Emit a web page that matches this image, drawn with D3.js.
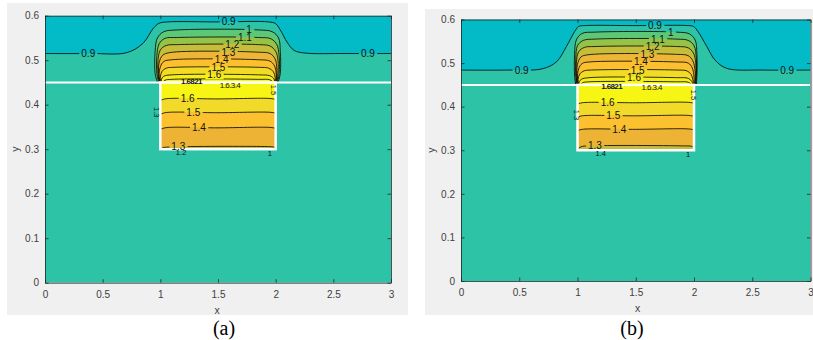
<!DOCTYPE html>
<html>
<head>
<meta charset="utf-8">
<script src="https://cdn.jsdelivr.net/npm/d3@7"></script>
<style>
body { margin: 0; background: #fff; }
svg { display: block; }
.tick text { font-family: "Liberation Sans", Arial, sans-serif; font-size: 10px; fill: #404040; }
.clabel { font-family: "Liberation Sans", Arial, sans-serif; font-size: 10px; fill: #111; }
.cap { font-family: "Liberation Serif", "Times New Roman", serif; font-size: 20px; fill: #000; }
.axlab { font-family: "Liberation Sans", Arial, sans-serif; font-size: 10.5px; fill: #404040; }
</style>
</head>
<body>
<svg id="fig" width="813" height="340"></svg>
<script>
/**********************
 Data
**********************/
var xTicks = [0, 0.5, 1, 1.5, 2, 2.5, 3];
var yTicks = [0, 0.1, 0.2, 0.3, 0.4, 0.5, 0.6];
var lobeLevels = [1.0, 1.1, 1.2, 1.3, 1.4, 1.5, 1.6, 1.7];
var boxLevels = [1.3, 1.4, 1.5, 1.6];
var interfaceY = 0.45;
var boxX = [1, 2];
var boxY = [0.3, 0.45];

// panel (a): the 0.9 contour across the whole width
var line09A = [[0,0.515],[0.4,0.515],[0.71,0.517],[0.85,0.538],[0.94,0.572],[0.99,0.583],[1.06,0.586],[1.5,0.586],
  [1.94,0.586],[2.0,0.582],[2.04,0.568],[2.1,0.54],[2.16,0.522],[2.26,0.516],[2.6,0.515],[3,0.515]];
// panel (a): contours above the interface, one per lobeLevels entry
var lobeA = [
  [[0.975,0.45],[0.955,0.47],[0.955,0.52],[0.975,0.55],[1.03,0.564],[1.15,0.568],[1.85,0.568],[1.97,0.564],[2.025,0.55],[2.04,0.52],[2.04,0.47],[2.02,0.45]],
  [[0.985,0.45],[0.97,0.47],[0.97,0.51],[0.99,0.537],[1.04,0.549],[1.15,0.551],[1.85,0.551],[1.96,0.548],[2.01,0.535],[2.03,0.51],[2.03,0.47],[2.015,0.45]],
  [[0.99,0.45],[0.98,0.47],[0.98,0.50],[1.0,0.523],[1.05,0.533],[1.15,0.535],[1.85,0.535],[1.95,0.532],[2.0,0.52],[2.02,0.50],[2.02,0.47],[2.01,0.45]],
  [[0.995,0.45],[0.985,0.47],[0.99,0.495],[1.02,0.511],[1.08,0.517],[1.85,0.518],[1.95,0.515],[1.995,0.503],[2.01,0.48],[2.005,0.45]],
  [[1.0,0.45],[0.99,0.465],[1.0,0.485],[1.03,0.497],[1.1,0.501],[1.85,0.501],[1.95,0.498],[1.99,0.487],[2.005,0.467],[2.0,0.45]],
  [[1.005,0.45],[1.0,0.462],[1.015,0.475],[1.05,0.482],[1.12,0.484],[1.85,0.484],[1.94,0.482],[1.98,0.474],[1.995,0.462],[1.995,0.45]],
  [[1.01,0.45],[1.01,0.457],[1.03,0.464],[1.1,0.467],[1.85,0.467],[1.95,0.465],[1.985,0.458],[1.99,0.45]],
  [[1.02,0.45],[1.04,0.455],[1.1,0.457],[1.85,0.457],[1.95,0.456],[1.98,0.45]]
];
// panel (a): contours inside the box, one per boxLevels entry
var boxLinesA = [
  [[1.0,0.298],[1.02,0.303],[1.1,0.305],[1.9,0.306],[1.98,0.305],[2.0,0.303]],
  [[1.0,0.344],[1.04,0.348],[1.5,0.348],[1.95,0.349],[2.0,0.347]],
  [[1.0,0.378],[1.04,0.382],[1.5,0.382],[1.95,0.383],[2.0,0.381]],
  [[1.0,0.409],[1.04,0.413],[1.5,0.413],[1.95,0.414],[2.0,0.412]]
];
var labelsA = [[0.375,0.515,'0.9'],[2.80,0.515,'0.9'],[1.593,0.586,'0.9'],[1.77,0.568,'1'],[1.734,0.551,'1.1'],
  [1.624,0.535,'1.2'],[1.59,0.518,'1.3'],[1.532,0.501,'1.4'],[1.503,0.484,'1.5'],[1.468,0.467,'1.6'],
  [1.237,0.413,'1.6'],[1.286,0.382,'1.5'],[1.335,0.348,'1.4'],[1.156,0.305,'1.3']];
// small crowded labels along the box edges
var smallLabelsA = [[1.18,0.292,'1.2',0],[1.95,0.29,'1',0],[1.604,0.444,'1.6.3.4',0],[1.27,0.452,'1.6821',0],
  [0.972,0.383,'1.3',90],[1.982,0.433,'1.5',90]];

// panel (b)
var line09B = [[0,0.484],[0.4,0.484],[0.7,0.487],[0.82,0.503],[0.905,0.538],[0.975,0.572],[1.01,0.584],[1.06,0.586],
  [1.5,0.586],[1.95,0.586],[1.995,0.584],[2.035,0.572],[2.11,0.538],[2.18,0.507],[2.28,0.488],[2.6,0.484],[3,0.484]];
var lobeB = [
  [[0.985,0.45],[0.975,0.47],[0.975,0.52],[0.99,0.553],[1.04,0.568],[1.15,0.571],[1.85,0.571],[1.96,0.567],[2.01,0.553],[2.025,0.52],[2.025,0.47],[2.02,0.45]],
  [[0.99,0.45],[0.985,0.47],[0.985,0.51],[1.0,0.54],[1.05,0.552],[1.15,0.555],[1.85,0.555],[1.95,0.552],[2.0,0.54],[2.02,0.51],[2.02,0.47],[2.015,0.45]],
  [[0.995,0.45],[0.99,0.47],[0.99,0.50],[1.01,0.526],[1.06,0.536],[1.15,0.538],[1.85,0.538],[1.95,0.535],[1.995,0.523],[2.015,0.50],[2.015,0.47],[2.01,0.45]],
  [[1.0,0.45],[0.995,0.47],[1.0,0.497],[1.03,0.514],[1.09,0.519],[1.85,0.52],[1.95,0.517],[1.99,0.505],[2.01,0.48],[2.005,0.45]],
  [[1.005,0.45],[1.0,0.465],[1.01,0.487],[1.04,0.499],[1.1,0.5025],[1.85,0.5025],[1.95,0.5],[1.985,0.489],[2.0,0.468],[2.0,0.45]],
  [[1.01,0.45],[1.005,0.462],[1.02,0.475],[1.055,0.482],[1.12,0.484],[1.85,0.484],[1.94,0.482],[1.975,0.474],[1.99,0.462],[1.995,0.45]],
  [[1.015,0.45],[1.015,0.457],[1.035,0.463],[1.1,0.4665],[1.85,0.4665],[1.95,0.465],[1.98,0.458],[1.99,0.45]],
  [[1.025,0.45],[1.045,0.455],[1.1,0.457],[1.85,0.457],[1.95,0.456],[1.98,0.45]]
];
var boxLinesB = [
  [[1.0,0.302],[1.03,0.308],[1.1,0.31],[1.9,0.31],[1.98,0.309],[2.0,0.306]],
  [[1.0,0.345],[1.04,0.348],[1.5,0.348],[1.95,0.349],[2.0,0.347]],
  [[1.0,0.376],[1.04,0.379],[1.5,0.379],[1.95,0.38],[2.0,0.378]],
  [[1.0,0.406],[1.04,0.409],[1.5,0.409],[1.95,0.41],[2.0,0.408]]
];
var labelsB = [[0.52,0.484,'0.9'],[2.80,0.484,'0.9'],[1.665,0.586,'0.9'],[1.80,0.571,'1'],[1.69,0.555,'1.1'],
  [1.645,0.538,'1.2'],[1.6,0.52,'1.3'],[1.545,0.5025,'1.4'],[1.517,0.484,'1.5'],[1.485,0.4665,'1.6'],
  [1.259,0.409,'1.6'],[1.307,0.379,'1.5'],[1.359,0.348,'1.4'],[1.15,0.31,'1.3']];
var smallLabelsB = [[1.2,0.292,'1.4',0],[1.95,0.291,'1',0],[1.637,0.444,'1.6.3.4',0],[1.293,0.447,'1.6821',0],
  [0.993,0.381,'1.3',90],[1.994,0.427,'1.5',90]];

/**********************
 Colours (parula-like bands)
**********************/
var colLow = '#03BAC7';      // below 0.9
var colBase = '#2DC3A7';     // 0.9 - 1.0
var lobeColors = ['#5CC777', '#95C247', '#C6BD3A', '#EDB636', '#FCC02F', '#F2DB27', '#F5EE1B', '#F8F910'];
var boxBaseColor = '#C6BD3A';
var boxColors = ['#ECB335', '#FCC12F', '#F1DA29', '#F7F514'];

var svg = d3.select('#fig');

var panels = [
  {id: 'a', bg: [7, 3, 401, 312], left: 45, right: 391, top: 15.7, bottom: 282.7,
   line09: line09A, lobe: lobeA, boxLines: boxLinesA, labels: labelsA, small: smallLabelsA,
   xLab: [217, 310], yLab: [15, 149], cap: 224},
  {id: 'b', bg: [425, 9, 400, 306], left: 461, right: 810.5, top: 19.5, bottom: 281,
   line09: line09B, lobe: lobeB, boxLines: boxLinesB, labels: labelsB, small: smallLabelsB,
   xLab: [637.5, 308.5], yLab: [431.5, 150], cap: 632}
];

panels.forEach(drawPanel);

function drawPanel(p) {
  var g = svg.append('g');
  g.append('rect')
    .attr('x', p.bg[0]).attr('y', p.bg[1]).attr('width', p.bg[2]).attr('height', p.bg[3])
    .attr('fill', '#F0F0F0');

  var x = d3.scaleLinear().domain([0, 3]).range([p.left, p.right]);
  var y = d3.scaleLinear().domain([0, 0.6]).range([p.bottom, p.top]);

  var defs = g.append('defs');
  defs.append('clipPath').attr('id', 'clip' + p.id)
    .append('rect')
    .attr('x', p.left).attr('y', p.top)
    .attr('width', p.right - p.left).attr('height', p.bottom - p.top);
  var mask = defs.append('mask').attr('id', 'mask' + p.id)
    .attr('maskUnits', 'userSpaceOnUse')
    .attr('x', 0).attr('y', 0).attr('width', 813).attr('height', 340);
  mask.append('rect').attr('x', 0).attr('y', 0).attr('width', 813).attr('height', 340).attr('fill', '#fff');

  var plot = g.append('g').attr('clip-path', 'url(#clip' + p.id + ')');

  var line = d3.line()
    .x(function(d) { return x(d[0]); })
    .y(function(d) { return y(d[1]); })
    .curve(d3.curveCatmullRom.alpha(0.5));

  // base band
  plot.append('rect')
    .attr('x', p.left).attr('y', p.top)
    .attr('width', p.right - p.left).attr('height', p.bottom - p.top)
    .attr('fill', colBase);

  // band below 0.9 (upper region)
  var topArea = d3.area()
    .x(function(d) { return x(d[0]); })
    .y0(y(0.6))
    .y1(function(d) { return y(d[1]); })
    .curve(d3.curveCatmullRom.alpha(0.5));
  plot.append('path').datum(p.line09).attr('d', topArea).attr('fill', colLow);

  // lobe above the interface
  p.lobe.forEach(function(pts, i) {
    plot.append('path').attr('d', line(pts) + 'Z').attr('fill', lobeColors[i]);
  });

  // box below the interface
  plot.append('rect')
    .attr('x', x(boxX[0])).attr('y', y(boxY[1]))
    .attr('width', x(boxX[1]) - x(boxX[0])).attr('height', y(boxY[0]) - y(boxY[1]))
    .attr('fill', boxBaseColor);
  var boxArea = d3.area()
    .x(function(d) { return x(d[0]); })
    .y0(y(boxY[1]))
    .y1(function(d) { return y(d[1]); })
    .curve(d3.curveCatmullRom.alpha(0.5));
  p.boxLines.forEach(function(pts, i) {
    plot.append('path').datum(pts).attr('d', boxArea).attr('fill', boxColors[i]);
  });

  // contour lines (masked under the inline labels)
  var lines = plot.append('g')
    .attr('mask', 'url(#mask' + p.id + ')')
    .attr('fill', 'none').attr('stroke', '#000').attr('stroke-width', 0.8);
  lines.append('path').attr('d', line(p.line09));
  p.lobe.forEach(function(pts) { lines.append('path').attr('d', line(pts)); });
  p.boxLines.forEach(function(pts) { lines.append('path').attr('d', line(pts)); });

  // white interface line and box outline
  plot.append('line')
    .attr('x1', x(0)).attr('x2', x(3)).attr('y1', y(interfaceY)).attr('y2', y(interfaceY))
    .attr('stroke', '#fff').attr('stroke-width', 2);
  plot.append('rect')
    .attr('x', x(boxX[0])).attr('y', y(boxY[1]))
    .attr('width', x(boxX[1]) - x(boxX[0])).attr('height', y(boxY[0]) - y(boxY[1]))
    .attr('fill', 'none').attr('stroke', '#fff').attr('stroke-width', 2.5);

  // inline contour labels
  var labs = plot.selectAll('text.clabel')
    .data(p.labels)
    .enter()
    .append('text')
    .attr('class', 'clabel')
    .attr('x', function(d) { return x(d[0]); })
    .attr('y', function(d) { return y(d[1]); })
    .attr('dy', '0.35em')
    .attr('text-anchor', 'middle')
    .text(function(d) { return d[2]; });
  labs.each(function() {
    var b = this.getBBox();
    mask.append('rect')
      .attr('x', b.x - 2).attr('y', b.y + 1)
      .attr('width', b.width + 4).attr('height', b.height - 2)
      .attr('fill', '#000');
  });

  plot.selectAll('text.small')
    .data(p.small)
    .enter()
    .append('text')
    .attr('class', 'small')
    .attr('transform', function(d) { return 'translate(' + x(d[0]) + ',' + y(d[1]) + ') rotate(' + d[3] + ')'; })
    .attr('dy', '0.35em')
    .attr('text-anchor', 'middle')
    .style('font-family', '"Liberation Sans", Arial, sans-serif')
    .style('font-size', function(d) { return d[2].length > 4 ? '8px' : '7.5px'; })
    .style('letter-spacing', function(d) { return d[2].length > 4 ? '-0.6px' : '0'; })
    .style('font-weight', function(d) { return d[2] === '1.6821' ? 'bold' : 'normal'; })
    .attr('fill', '#111')
    .text(function(d) { return d[2]; });

  // axes (MATLAB style: inward ticks on all four sides)
  var fmt = function(d) { return String(d); };
  var tick = 3.5;
  var axisColor = '#262626';

  var xb = g.append('g').attr('transform', 'translate(0,' + p.bottom + ')')
    .call(d3.axisBottom(x).tickValues(xTicks).tickFormat(fmt).tickSizeInner(-tick).tickSizeOuter(0).tickPadding(8));
  var xt = g.append('g').attr('transform', 'translate(0,' + p.top + ')')
    .call(d3.axisTop(x).tickValues(xTicks).tickFormat('').tickSizeInner(-tick).tickSizeOuter(0));
  var yl = g.append('g').attr('transform', 'translate(' + p.left + ',0)')
    .call(d3.axisLeft(y).tickValues(yTicks).tickFormat(fmt).tickSizeInner(-tick).tickSizeOuter(0).tickPadding(6));
  var yr = g.append('g').attr('transform', 'translate(' + p.right + ',0)')
    .call(d3.axisRight(y).tickValues(yTicks).tickFormat('').tickSizeInner(-tick).tickSizeOuter(0));
  [xb, xt, yl, yr].forEach(function(a) {
    a.selectAll('path.domain').attr('stroke', axisColor).attr('stroke-width', 0.8);
    a.selectAll('.tick line').attr('stroke', axisColor).attr('stroke-width', 0.8);
  });

  g.append('text').attr('class', 'axlab')
    .attr('x', p.xLab[0]).attr('y', p.xLab[1]).attr('dy', '0.35em')
    .attr('text-anchor', 'middle').text('x');
  g.append('text').attr('class', 'axlab')
    .attr('transform', 'translate(' + p.yLab[0] + ',' + p.yLab[1] + ') rotate(-90)')
    .attr('dy', '0.35em').attr('text-anchor', 'middle').text('y');

  svg.append('text').attr('class', 'cap')
    .attr('x', p.cap).attr('y', 334.5)
    .attr('text-anchor', 'middle').text('(' + p.id + ')');
}
</script>
</body>
</html>
